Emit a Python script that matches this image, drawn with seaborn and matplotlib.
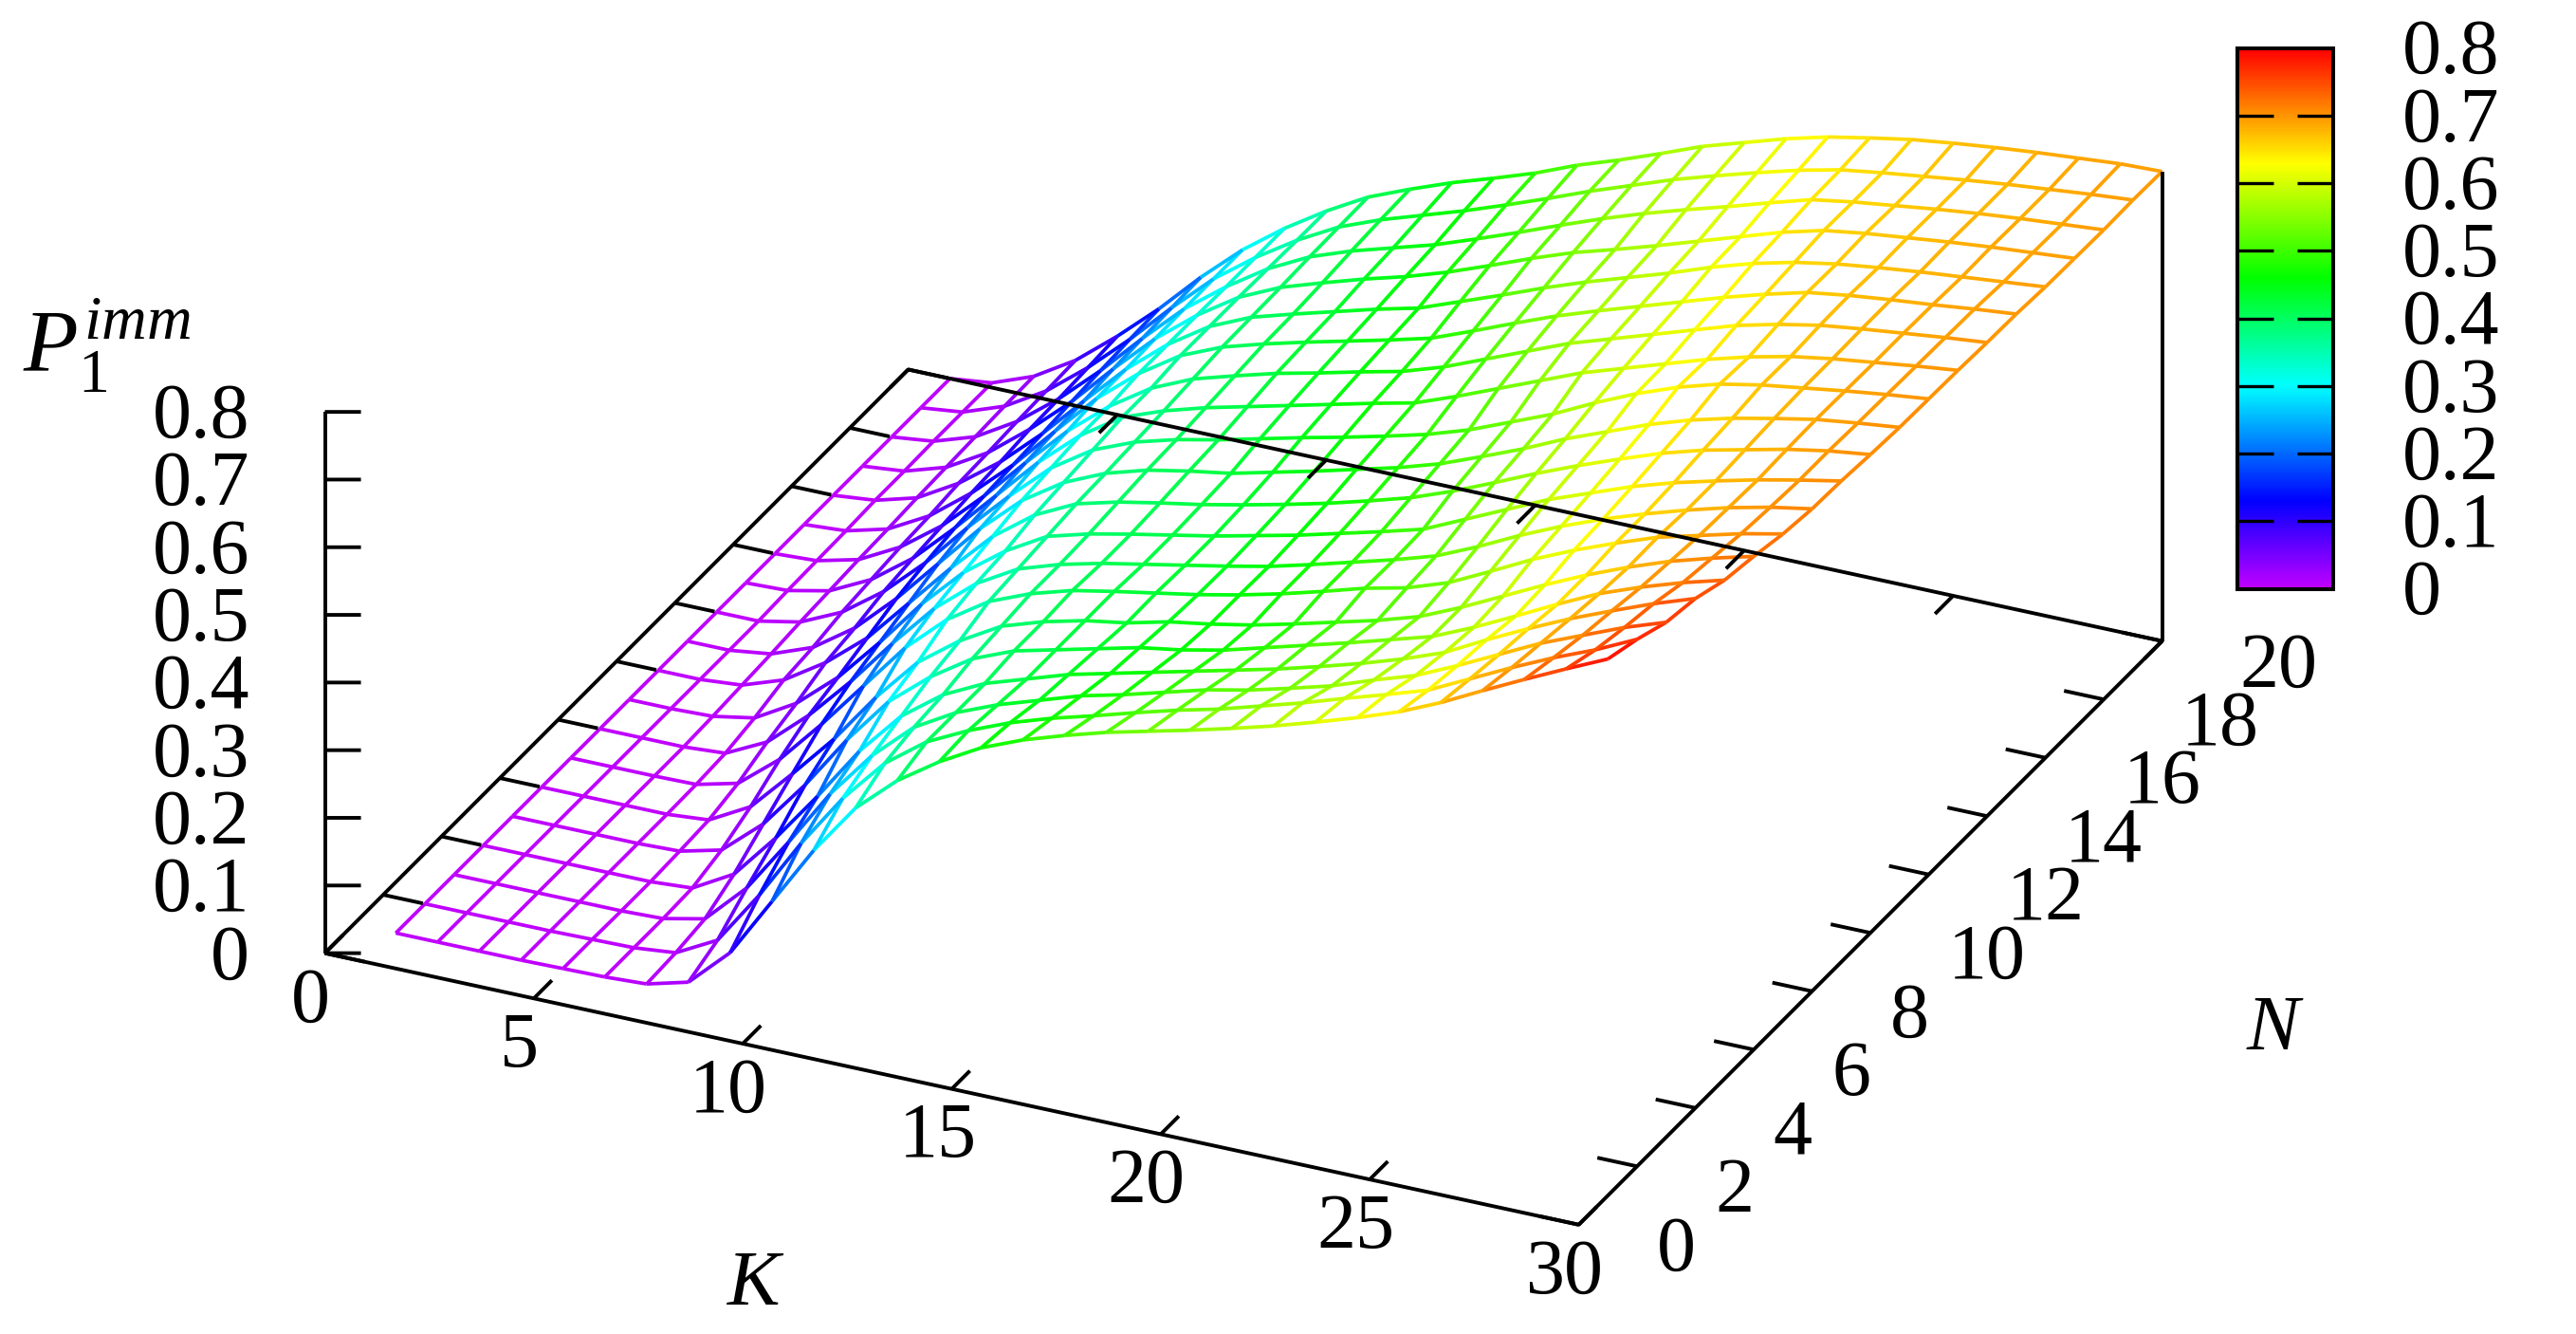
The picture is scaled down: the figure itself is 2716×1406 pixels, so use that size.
import numpy as np
import matplotlib
matplotlib.use('Agg')
import matplotlib.pyplot as plt
from matplotlib.colors import LinearSegmentedColormap
from mpl_toolkits.mplot3d import proj3d
from mpl_toolkits.mplot3d.art3d import Line3DCollection
import seaborn as sns

# valores, una lista por cada N, de K=1 a K=30
k_values = list(range(1, 31))
n_values = list(range(1, 21))
z_n01 = [0, 0, 0, 0, .001, .002, .005, .021, .078, .167, .256, .332, .386, .427, .461, .486, .506, .524, .539, .554, .570, .587, .606, .626, .648, .675, .706, .736, .765, .793]
z_n02 = [0, 0, 0, 0, .001, .002, .008, .040, .120, .210, .290, .355, .400, .430, .455, .475, .492, .510, .527, .542, .560, .578, .598, .617, .637, .667, .697, .725, .750, .779]
z_n03 = [0, 0, 0, 0, 0, .002, .015, .074, .155, .240, .310, .365, .400, .425, .445, .465, .480, .497, .514, .527, .543, .560, .582, .602, .630, .660, .690, .715, .740, .761]
z_n04 = [0, 0, 0, 0, 0, .004, .038, .105, .180, .260, .325, .370, .400, .420, .440, .455, .470, .485, .500, .515, .532, .550, .570, .593, .625, .655, .683, .708, .732, .753]
z_n05 = [0, 0, 0, 0, .002, .017, .069, .140, .220, .290, .340, .380, .405, .420, .435, .450, .460, .473, .490, .507, .524, .542, .560, .587, .617, .648, .677, .700, .720, .737]
z_n06 = [0, 0, 0, 0, .005, .038, .100, .165, .240, .305, .350, .385, .405, .420, .430, .445, .455, .467, .482, .498, .514, .533, .560, .590, .620, .648, .673, .695, .713, .729]
z_n07 = [0, 0, 0, .001, .016, .065, .130, .200, .270, .325, .365, .390, .408, .420, .431, .442, .455, .470, .487, .505, .519, .540, .570, .601, .628, .652, .674, .690, .706, .719]
z_n08 = [0, 0, 0, .004, .034, .087, .150, .220, .285, .335, .370, .390, .405, .417, .429, .441, .454, .470, .487, .504, .523, .550, .580, .607, .631, .652, .671, .688, .702, .713]
z_n09 = [0, 0, .002, .013, .048, .100, .165, .235, .295, .340, .375, .392, .405, .417, .429, .443, .457, .473, .489, .506, .534, .562, .590, .613, .636, .655, .671, .686, .699, .711]
z_n10 = [0, 0, .005, .026, .065, .115, .180, .245, .305, .350, .380, .396, .408, .419, .432, .446, .461, .478, .496, .519, .545, .572, .597, .620, .642, .660, .674, .688, .699, .707]
z_n11 = [0, 0, .008, .031, .073, .130, .195, .260, .315, .355, .382, .400, .412, .422, .437, .452, .468, .484, .503, .527, .552, .580, .604, .628, .648, .664, .677, .689, .697, .704]
z_n12 = [0, 0, .012, .040, .084, .140, .205, .265, .320, .360, .385, .402, .415, .430, .445, .459, .474, .490, .510, .535, .560, .590, .617, .640, .658, .670, .679, .688, .696, .703]
z_n13 = [0, .002, .015, .045, .090, .148, .210, .272, .325, .365, .388, .406, .421, .436, .451, .466, .480, .503, .528, .553, .578, .598, .618, .638, .655, .669, .679, .687, .695, .702]
z_n14 = [0, .003, .018, .050, .095, .152, .215, .275, .325, .365, .392, .410, .427, .441, .456, .470, .490, .515, .540, .565, .585, .605, .625, .645, .660, .672, .680, .687, .694, .700]
z_n15 = [0, .004, .020, .053, .100, .155, .218, .280, .330, .370, .396, .414, .430, .445, .460, .476, .500, .525, .549, .570, .590, .610, .630, .648, .664, .673, .680, .686, .693, .699]
z_n16 = [0, .006, .023, .058, .103, .158, .220, .280, .330, .370, .397, .415, .432, .449, .464, .487, .510, .534, .556, .576, .596, .618, .637, .652, .663, .671, .678, .684, .690, .696]
z_n17 = [0, .006, .025, .060, .108, .162, .224, .282, .330, .370, .398, .418, .437, .454, .474, .497, .521, .543, .561, .580, .600, .620, .640, .656, .665, .672, .679, .685, .690, .695]
z_n18 = [0, .007, .027, .063, .110, .165, .226, .283, .329, .369, .400, .422, .440, .458, .480, .503, .527, .550, .571, .590, .608, .627, .645, .655, .663, .671, .678, .684, .689, .694]
z_n19 = [0, .007, .029, .065, .113, .168, .228, .284, .329, .368, .401, .425, .445, .465, .487, .510, .534, .556, .578, .597, .615, .632, .646, .655, .663, .671, .678, .684, .690, .695]
z_n20 = [0, .007, .030, .067, .116, .170, .230, .284, .329, .368, .402, .427, .450, .470, .491, .516, .537, .560, .584, .603, .622, .638, .650, .661, .669, .676, .682, .687, .692, .694]

k_ticks = [0, 5, 10, 15, 20, 25, 30]
n_ticks = [0, 2, 4, 6, 8, 10, 12, 14, 16, 18, 20]
z_ticks = [0, .1, .2, .3, .4, .5, .6, .7, .8]
z_labels = ['0', '0.1', '0.2', '0.3', '0.4', '0.5', '0.6', '0.7', '0.8']

# paleta tipo arcoiris de la barra de color
palette_stops = [0, .13 / .8, .3 / .8, .46 / .8, .63 / .8, 1]
palette_colors = ['#bf00ff', '#0000ff', '#00ffff', '#00ff00', '#ffff00', '#ff0000']

sns.set_theme(style='white')
plt.rcParams['font.family'] = ['Liberation Serif']
plt.rcParams['mathtext.fontset'] = 'custom'
plt.rcParams['mathtext.rm'] = 'Liberation Serif'
plt.rcParams['mathtext.it'] = 'Liberation Serif:italic'

W, H = 2716, 1406
TICK_FS = 59
fig = plt.figure(figsize=(W / 100, H / 100), dpi=100, facecolor='white')
cmap = LinearSegmentedColormap.from_list('imm', list(zip(palette_stops, palette_colors)), N=256)

ax = fig.add_axes([0, 0, 1, 1], projection='3d', proj_type='ortho', computed_zorder=False)
ax.set_axis_off()
ax.patch.set_alpha(0)
ax.set_xlim(0, 30)
ax.set_ylim(0, 20)
ax.set_zlim(0, .8)
ax.set_box_aspect((1457, 1457, 644))
ax.view_init(elev=27.73, azim=-65.05)


def to_screen(k, n, z):
    xs, ys, _ = proj3d.proj_transform(k, n, z, ax.get_proj())
    return ax.transData.transform((xs, ys))


def place(side, cx, cy):
    ax.set_position([(cx - side / 2) / W, (cy - side / 2) / H, side / W, side / H])
    ax.apply_aspect()


def label_at(k, n, z, text, dx, dy, ha):
    # etiqueta junto a un punto de los ejes, separada en pixeles
    px, py = to_screen(k, n, z)
    fig.text((px + dx) / W, (py + dy) / H, text, fontsize=TICK_FS, ha=ha, va='center', color='black')


# colocamos los ejes para que las esquinas caigan donde estan en la figura
side, cx, cy = 3200, W / 2, H / 2
place(side, cx, cy)
corner_a = to_screen(0, 0, 0)
corner_b = to_screen(30, 20, 0)
side *= (2279.6 - 342.5) / (corner_b[0] - corner_a[0])
place(side, cx, cy)
corner_a = to_screen(0, 0, 0)
cx += 342.5 - corner_a[0]
cy += (H - 1004.6) - corner_a[1]
place(side, cx, cy)

# la malla, cada segmento con el color de su altura media
z_grid = np.array([z_n01, z_n02, z_n03, z_n04, z_n05, z_n06, z_n07, z_n08, z_n09, z_n10,
                   z_n11, z_n12, z_n13, z_n14, z_n15, z_n16, z_n17, z_n18, z_n19, z_n20])
segments = []
means = []
for i, n in enumerate(n_values):
    for j, k in enumerate(k_values):
        if j + 1 < len(k_values):
            segments.append([(k, n, z_grid[i, j]), (k_values[j + 1], n, z_grid[i, j + 1])])
            means.append((z_grid[i, j] + z_grid[i, j + 1]) / 2)
        if i + 1 < len(n_values):
            segments.append([(k, n, z_grid[i, j]), (k, n_values[i + 1], z_grid[i + 1, j])])
            means.append((z_grid[i, j] + z_grid[i + 1, j]) / 2)
mesh = Line3DCollection(segments, colors=cmap(np.array(means) / .8), linewidths=2.7, zorder=2)
ax.add_collection3d(mesh)

# marco y marcas
black = dict(color='black', lw=2.8, zorder=3, solid_capstyle='butt')
ax.plot([0, 30, 30, 0, 0], [0, 0, 20, 20, 0], [0, 0, 0, 0, 0], **black)
ax.plot([0, 0], [0, 0], [0, .8], **black)
ax.plot([30, 30], [20, 20], [0, z_n20[-1]], **black)
for k in k_ticks:
    ax.plot([k, k], [0, .62], [0, 0], **black)
    ax.plot([k, k], [20, 19.38], [0, 0], **black)
for n in n_ticks:
    ax.plot([30, 29.05], [n, n], [0, 0], **black)
    ax.plot([0, .95], [n, n], [0, 0], **black)
for z in z_ticks:
    ax.plot([0, .71], [0, .22], [z, z], **black)

# etiquetas de los ejes
for k in k_ticks:
    label_at(k, 0, 0, str(k), -15, -46 - 6, 'center')
for n in n_ticks:
    label_at(30, n, 0, str(n), 82, -22 - 6, 'left')
for z, label in zip(z_ticks, z_labels):
    label_at(0, 0, z, label, -79.5, -7, 'right')

fig.text(797 / W, 1 - 1355 / H, r'$K$', fontsize=TICK_FS + 1, ha='center', va='center', color='black')
fig.text(2399 / W, 1 - 1086 / H, r'$N$', fontsize=TICK_FS + 1, ha='center', va='center', color='black')
fig.text(113 / W, 1 - 364 / H, r'$P_1^{imm}$', fontsize=68, ha='center', va='center', color='black')

# barra de color con un heatmap de una columna
cax = fig.add_axes([2359 / W, 1 - 620.7 / H, 101 / W, 570 / H])
levels = np.linspace(.8, 0, 256).reshape(-1, 1)
sns.heatmap(levels, ax=cax, cmap=cmap, vmin=0, vmax=.8, cbar=False, xticklabels=False, yticklabels=False)
for spine in cax.spines.values():
    spine.set_visible(True)
    spine.set_color('black')
    spine.set_linewidth(2.9)
tick_y = [(.8 - z) / .8 * 256 for z in z_ticks]
cax.hlines(tick_y[1:-1], 0, .376, color='black', lw=2.4)
cax.hlines(tick_y[1:-1], .624, 1, color='black', lw=2.4)
for y, label in zip(tick_y, z_labels):
    cax.text(1 + 73 / 101, y + 3, label, fontsize=TICK_FS, ha='left', va='center', color='black', clip_on=False)

fig.savefig('out.png', dpi=100)
